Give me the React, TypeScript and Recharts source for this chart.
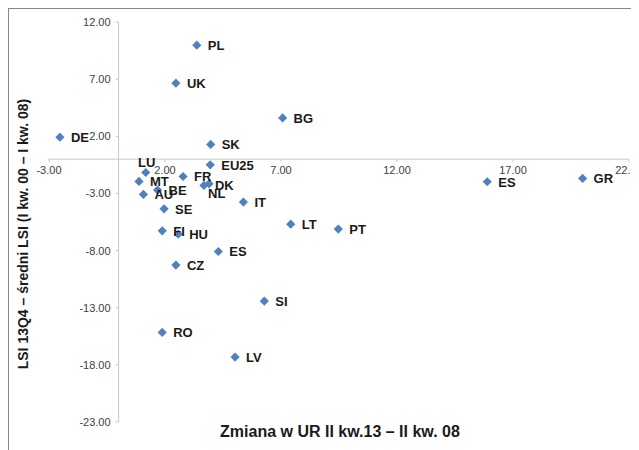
import { ScatterChart, Scatter, XAxis, YAxis, ReferenceLine, ReferenceDot } from "recharts";

const countries = ["PL", "UK", "BG", "DE", "SK", "EU25", "LU", "FR", "MT", "DK", "NL", "BE", "AU", "IT", "SE", "LT", "PT", "FI", "HU", "ES", "CZ", "SI", "RO", "LV", "ES", "GR"];
const urChange = [3.37, 2.47, 7.07, -2.53, 3.97, 3.95, 1.17, 2.78, 0.88, 3.68, 3.9, 1.68, 1.07, 5.38, 1.96, 7.42, 9.47, 1.88, 2.57, 4.3, 2.47, 6.28, 1.88, 5.02, 15.89, 20.0];
const lsiChange = [9.97, 6.65, 3.61, 1.92, 1.29, -0.5, -1.17, -1.52, -1.95, -2.3, -2.16, -2.71, -3.09, -3.76, -4.35, -5.69, -6.12, -6.27, -6.56, -8.08, -9.27, -12.42, -15.16, -17.32, -1.98, -1.69];
const xTicks = [-3, 2, 7, 12, 17, 22];
const yTicks = [12, 7, 2, -3, -8, -13, -18, -23];

const data = countries.map((name, i) => ({ name, x: urChange[i], y: lsiChange[i] }));

// labels moved off the default right-hand spot
const labelSide: Record<string, string> = { LU: "top", NL: "below" };

const AXIS = "#c6c6c6";
const BLUE = "#4f81bd";
const FONT = "Liberation Sans, Arial, sans-serif";

const Diamond = (p: any) => {
  const { cx, cy } = p;
  const r = 4.6;
  return <path d={`M${cx},${cy - r}L${cx + r},${cy}L${cx},${cy + r}L${cx - r},${cy}Z`} fill={BLUE} />;
};

const PointLabel = (p: any) => {
  const { cx, cy, payload } = p;
  const side = labelSide[payload.name];
  let x = cx + 11;
  let y = cy + 4.8;
  let anchor = "start";
  if (side === "top") {
    x = cx + 1;
    y = cy - 5.5;
    anchor = "middle";
  } else if (side === "below") {
    x = cx - 1;
    y = cy + 14.2;
  }
  return (
    <text x={x} y={y} textAnchor={anchor} fontSize={13} fontWeight="bold" fill="#1a1a1a" fontFamily={FONT}>
      {payload.name}
    </text>
  );
};

const XTick = (value: number) => (p: any) => (
  <g>
    <line x1={p.cx} y1={p.cy} x2={p.cx} y2={p.cy + 3} stroke={AXIS} />
    <text x={p.cx} y={p.cy + 15} textAnchor="middle" fontSize={11} fill="#404040" fontFamily={FONT}>
      {value.toFixed(2)}
    </text>
  </g>
);

const YTick = (value: number) => (p: any) => (
  <g>
    <line x1={p.cx - 3} y1={p.cy} x2={p.cx} y2={p.cy} stroke={AXIS} />
    <text x={p.cx - 8} y={p.cy + 4} textAnchor="end" fontSize={11} fill="#404040" fontFamily={FONT}>
      {value.toFixed(2)}
    </text>
  </g>
);

export default function App() {
  return (
    <div style={{ position: "relative", width: 640, height: 450, border: "1px solid #888", fontFamily: FONT }}>
      <ScatterChart width={640} height={450} margin={{ top: 13, right: 20, bottom: 37, left: 40 }}>
        <XAxis type="number" dataKey="x" domain={[-3, 22]} ticks={xTicks} hide />
        <YAxis type="number" dataKey="y" domain={[-23, 12]} ticks={yTicks} hide />
        <ReferenceLine x={0} stroke={AXIS} />
        <ReferenceLine y={0} stroke={AXIS} />
        {xTicks.map((v) => (
          <ReferenceDot key={"x" + v} x={v} y={0} r={0} shape={XTick(v)} />
        ))}
        {yTicks.map((v) => (
          <ReferenceDot key={"y" + v} x={0} y={v} r={0} shape={YTick(v)} />
        ))}
        <Scatter data={data} shape={Diamond} isAnimationActive={false} />
        <Scatter data={data} shape={PointLabel} isAnimationActive={false} />
      </ScatterChart>
      <div style={{ position: "absolute", left: 14, top: 225, width: 0, height: 0 }}>
        <div
          style={{
            position: "absolute",
            transform: "translate(-50%, -50%) rotate(-90deg)",
            whiteSpace: "nowrap",
            fontSize: 14,
            fontWeight: "bold",
            color: "#1a1a1a",
          }}
        >
          LSI 13Q4 – średni LSI (I kw. 00 – I kw. 08)
        </div>
      </div>
      <div
        style={{
          position: "absolute",
          left: 0,
          width: 662,
          top: 414,
          textAlign: "center",
          fontSize: 16,
          fontWeight: "bold",
          color: "#1a1a1a",
          whiteSpace: "nowrap",
        }}
      >
        Zmiana w UR II kw.13 – II kw. 08
      </div>
    </div>
  );
}
